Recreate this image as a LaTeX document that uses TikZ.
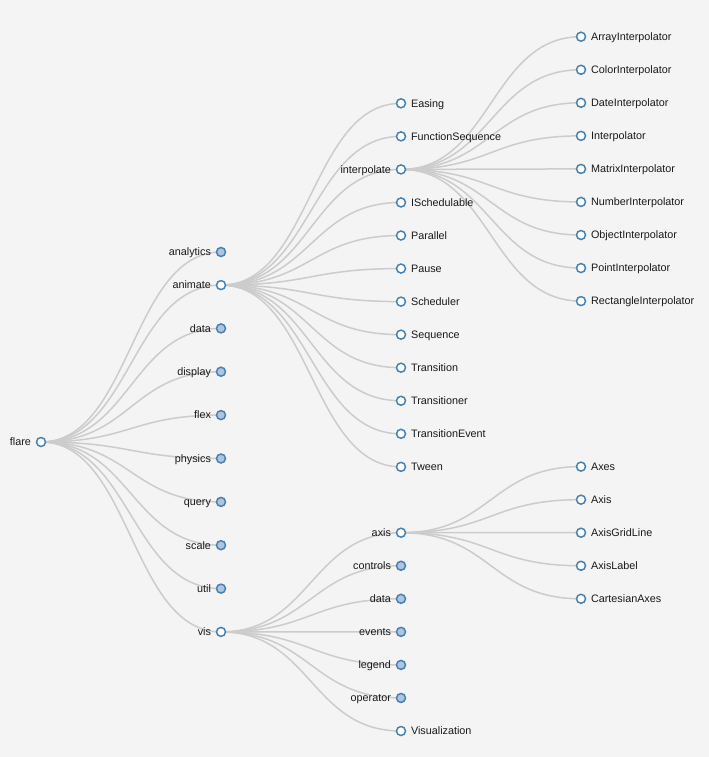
\documentclass[tikz,border=0pt]{standalone}
\usepackage{fontspec}
\setmainfont{Liberation Sans}
\usetikzlibrary{calc, backgrounds}

\definecolor{steel}{RGB}{70,130,180}
\definecolor{lightsteel}{RGB}{176,196,222}
\definecolor{linkgray}{RGB}{204,204,204}
\definecolor{paper}{RGB}{244,244,244}

\tikzset{
  openleaf/.style={circle, draw=steel, line width=1.125pt, fill=white,
                   minimum size=6.75pt, inner sep=0pt},
  folded/.style={openleaf, fill=lightsteel},
  lbl/.style={font=\fontsize{8.1pt}{9.5pt}\selectfont, text=black!90, inner sep=0pt,
              text height=5.8pt, text depth=0pt},
  tagleft/.style={label={[lbl, label distance=3.4pt]left:#1}},
  tagright/.style={label={[lbl, label distance=3.4pt]right:#1}},
  link/.style={draw=linkgray, line width=1.125pt}
}
\newcommand\treelink[2]{%
  \draw[link] let \p1=(#1.center), \p2=(#2.center) in
    (\p1) .. controls ({(\x1+\x2)/2},\y1) and ({(\x1+\x2)/2},\y2) .. (\p2);}

\begin{document}
\begin{tikzpicture}[x=0.75pt, y=-0.75pt]
  \useasboundingbox (0,0) rectangle (709,757);

  % root
  \node[openleaf, tagleft=flare] (flare) at (41,442) {};

  % first level
  \foreach \nm/\kind/\yy in {analytics/folded/252, animate/openleaf/285.1,
      data/folded/328.4, display/folded/371.7, flex/folded/415.1,
      physics/folded/458.5, query/folded/501.9, scale/folded/545.2,
      util/folded/588.6, vis/openleaf/631.9}
    \node[\kind, tagleft=\nm] (\nm) at (221,\yy) {};

  % animate children
  \foreach \nm/\kind/\side [count=\i from 0] in {Easing/openleaf/tagright,
      FunctionSequence/openleaf/tagright, interpolate/openleaf/tagleft,
      ISchedulable/openleaf/tagright, Parallel/openleaf/tagright,
      Pause/openleaf/tagright, Scheduler/openleaf/tagright,
      Sequence/openleaf/tagright, Transition/openleaf/tagright,
      Transitioner/openleaf/tagright, TransitionEvent/openleaf/tagright,
      Tween/openleaf/tagright}
    \node[\kind, \side=\nm] (\nm) at (401,{103.3+33.05*\i}) {};

  % vis children
  \foreach \nm/\txt/\kind/\side [count=\i from 0] in {axis/axis/openleaf/tagleft,
      controls/controls/folded/tagleft, visdata/data/folded/tagleft,
      events/events/folded/tagleft, legend/legend/folded/tagleft,
      operator/operator/folded/tagleft,
      Visualization/Visualization/openleaf/tagright}
    \node[\kind, \side=\txt] (\nm) at (401,{532.7+33.05*\i}) {};

  % interpolate children
  \foreach \nm [count=\i from 0] in {ArrayInterpolator, ColorInterpolator,
      DateInterpolator, Interpolator, MatrixInterpolator, NumberInterpolator,
      ObjectInterpolator, PointInterpolator, RectangleInterpolator}
    \node[openleaf, tagright=\nm] (\nm) at (581,{36.7+33.05*\i}) {};

  % axis children
  \foreach \nm [count=\i from 0] in {Axes, Axis, AxisGridLine, AxisLabel,
      CartesianAxes}
    \node[openleaf, tagright=\nm] (\nm) at (581,{466.6+33.05*\i}) {};

  \begin{pgfonlayer}{background}
    \fill[paper] (0,0) rectangle (709,757);
    \foreach \nm in {analytics, animate, data, display, flex, physics, query,
        scale, util, vis}
      {\treelink{flare}{\nm}}
    \foreach \nm in {Easing, FunctionSequence, interpolate, ISchedulable,
        Parallel, Pause, Scheduler, Sequence, Transition, Transitioner,
        TransitionEvent, Tween}
      {\treelink{animate}{\nm}}
    \foreach \nm in {axis, controls, visdata, events, legend, operator,
        Visualization}
      {\treelink{vis}{\nm}}
    \foreach \nm in {ArrayInterpolator, ColorInterpolator, DateInterpolator,
        Interpolator, MatrixInterpolator, NumberInterpolator,
        ObjectInterpolator, PointInterpolator, RectangleInterpolator}
      {\treelink{interpolate}{\nm}}
    \foreach \nm in {Axes, Axis, AxisGridLine, AxisLabel, CartesianAxes}
      {\treelink{axis}{\nm}}
  \end{pgfonlayer}
\end{tikzpicture}
\end{document}
